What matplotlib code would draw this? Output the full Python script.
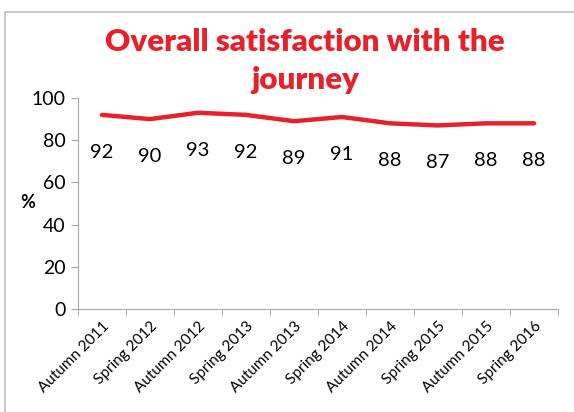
import matplotlib.pyplot as plt
from matplotlib.patches import Rectangle

# Survey waves and satisfaction scores (%)
waves = ["Autumn 2011", "Spring 2012", "Autumn 2012", "Spring 2013", "Autumn 2013",
         "Spring 2014", "Autumn 2014", "Spring 2015", "Autumn 2015", "Spring 2016"]
scores = [92, 90, 93, 92, 89, 91, 88, 87, 88, 88]
y_ticks = [0, 20, 40, 60, 80, 100]

red = "#E8202A"
grey = "#A6A6A6"
plt.rcParams['font.family'] = ['Lato', 'DejaVu Sans']

fig = plt.figure(figsize=(5.74, 4.12), dpi=100)
ax = fig.add_axes([78 / 574, 1 - 309 / 412, 480 / 574, 211 / 412])

x = list(range(len(waves)))
ax.plot(x, scores, color=red, linewidth=3.2, solid_capstyle='round')
for xi, v in zip(x, scores):
    ax.annotate(str(v), (xi, v), xytext=(0, -27), textcoords='offset points',
                ha='center', va='center', fontsize=14.5, color='black')

ax.set_xlim(-0.5, len(waves) - 0.5)
ax.set_ylim(0, 100)
ax.set_yticks(y_ticks)
ax.set_yticklabels([str(t) for t in y_ticks], fontsize=14)
ax.set_xticks(x)
ax.set_xticklabels(waves, rotation=45, ha='right', rotation_mode='anchor', fontsize=11)
ax.set_xticks([i - 0.5 for i in range(len(waves) + 1)], minor=True)
ax.tick_params(axis='x', which='major', length=0, pad=7)
ax.tick_params(axis='x', which='minor', length=5, color=grey)
ax.tick_params(axis='y', length=5, color=grey, pad=4)
for side in ['top', 'right']:
    ax.spines[side].set_visible(False)
for side in ['left', 'bottom']:
    ax.spines[side].set_color(grey)

fig.text(28 / 574, 1 - 203 / 412, "%", fontsize=13, fontweight='bold', ha='center', va='center')
fig.text(305 / 574, 1 - 42 / 412, "Overall satisfaction with the", fontsize=22.5,
         fontweight='heavy', color=red, ha='center', va='center')
fig.text(305 / 574, 1 - 80 / 412, "journey", fontsize=22.5,
         fontweight='heavy', color=red, ha='center', va='center')

# outer chart frame (top and left edges visible)
fig.add_artist(Rectangle((5 / 574, -0.05), 1.2, 1 - 12 / 412 + 0.05, transform=fig.transFigure,
                         fill=False, edgecolor='#BFBFBF', linewidth=1.2))

fig.savefig("out.png", dpi=100, facecolor='white')
